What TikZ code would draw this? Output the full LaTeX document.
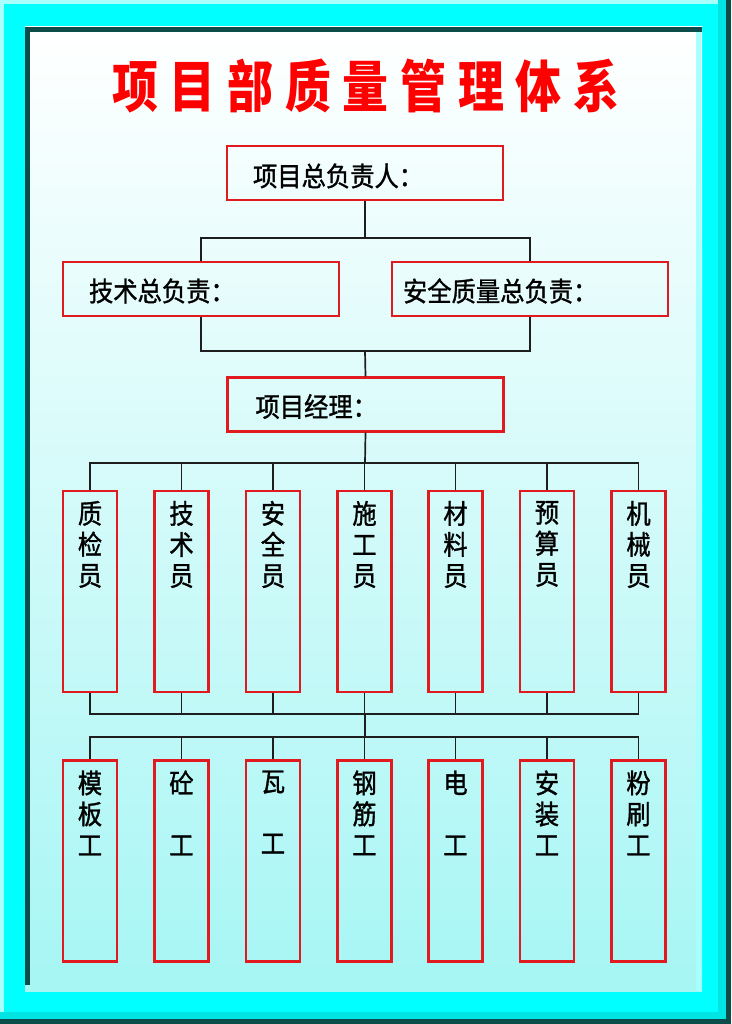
\documentclass[tikz,border=0pt]{standalone}
\usepackage{fontspec}
\usepackage{xcolor}
\usetikzlibrary{positioning}
\newfontfamily\cjk[FakeStretch=0.9,FakeBold=1.2]{Noto Sans CJK SC}
\newfontfamily\titlefont[LetterSpace=21,FakeStretch=0.82]{Noto Sans CJK SC}
\definecolor{rahmen}{HTML}{00FFFF}
\definecolor{rahmenhell}{HTML}{A8FFFF}
\definecolor{rahmendunkel}{HTML}{0C4C4A}
\definecolor{rahmenmitte}{HTML}{00E4E4}
\definecolor{tafelunten}{HTML}{A6F6F4}
\definecolor{kastenrot}{HTML}{E01A1E}
\definecolor{titelrot}{HTML}{FF0000}
\definecolor{linie}{HTML}{1E1E1E}
\tikzset{
  every picture/.style={x=1pt, y=-1pt},
  leitung/.style={draw=kastenrot, line width=2.4pt, minimum width=276pt, minimum height=54pt, inner sep=0pt},
  leittext/.style={anchor=west, inner sep=0pt, font=\cjk\fontsize{27}{30}\selectfont},
  posten/.style={draw=kastenrot, line width=2.4pt, minimum width=54pt, minimum height=201pt, inner sep=0pt},
  postentext/.style={anchor=north, align=center, inner sep=0pt, font=\cjk\fontsize{27}{31}\selectfont},
  strang/.style={draw=linie, line width=1.7pt},
}
\begin{document}
\begin{tikzpicture}
  \useasboundingbox (0,0) rectangle (731,1024);
  \fill[rahmen] (0,0) rectangle (731,1024);
  \fill[rahmenhell] (0,0) rectangle (731,4); \fill[rahmenhell] (0,0) rectangle (4,1024);
  \fill[rahmenmitte] (718,0) rectangle (726,1024); \fill[rahmenmitte] (0,1012) rectangle (731,1019);
  \fill[rahmendunkel] (726,0) rectangle (731,1024); \fill[rahmendunkel] (0,1019) rectangle (731,1024);
  \shade[top color=white, bottom color=tafelunten] (25,27) rectangle (702,991);
  \fill[rahmenhell] (696,32) rectangle (701,991);
  \fill[rahmendunkel] (25,27) rectangle (702,32); \fill[rahmendunkel] (25,27) rectangle (30,985);

  \node[text=titelrot, font=\titlefont\bfseries\fontsize{56}{60}\selectfont, inner sep=0pt, anchor=west] (titel) at (112,86) {项目部质量管理体系};

  \node[leitung] (chef) at (365,173) {};
  \node[leittext, right=27pt of chef.west, yshift=-3pt] {项目总负责人：};
  \node[leitung] (technik) at (201,289) {};
  \node[leittext, right=27pt of technik.west, yshift=-2pt] {技术总负责：};
  \node[leitung] (sicher) at (530,289) {};
  \node[leittext, right=12pt of sicher.west, yshift=-2pt] {安全质量总负责：};
  \node[leitung] (pm) at (365.5,404.5) {};
  \node[leittext, right=29pt of pm.west, yshift=-2pt] {项目经理：};

  \coordinate (k1) at (365,238);
  \coordinate (k2) at (365,351);
  \coordinate (k3) at (365,463);
  \coordinate (k4) at (365,714);
  \coordinate (k5) at (365,737);

  \draw[strang] (chef) -- (k1);
  \draw[strang] (technik.north) |- (k1) -| (sicher.north);
  \draw[strang] (technik.south) |- (k2) -| (sicher.south);
  \draw[strang] (k2) -- (pm.north);
  \draw[strang] (pm.south) -- (k3);

  \foreach \n/\x/\txt in {a1/90/{质\\检\\员}, a2/181.5/{技\\术\\员}, a3/273/{安\\全\\员},
      a4/364.5/{施\\工\\员}, a5/455.5/{材\\料\\员}, a6/547/{预\\算\\员}, a7/638.5/{机\\械\\员}}{
    \node[posten] (\n) at (\x,591.5) {};
    \node[postentext, below=11pt of \n.north] {\txt};
  }
  \foreach \n/\x/\txt in {b1/90/{模\\板\\工}, b2/181.5/{砼\\[31pt]工}, b3/273/{瓦\\[31pt]工},
      b4/364.5/{钢\\筋\\工}, b5/455.5/{电\\[31pt]工}, b6/547/{安\\装\\工}, b7/638.5/{粉\\刷\\工}}{
    \node[posten] (\n) at (\x,861) {};
    \node[postentext, below=11pt of \n.north] {\txt};
  }

  \draw[strang] (a1.north) |- (k3) -| (a7.north);
  \foreach \n in {a2,a3,a4,a5,a6}
    \draw[strang] (\n.north) -- (\n.north |- k3);
  \draw[strang] (a1.south) |- (k4) -| (a7.south);
  \foreach \n in {a2,a3,a4,a5,a6}
    \draw[strang] (\n.south) -- (\n.south |- k4);
  \draw[strang] (k4) -- (k5);
  \draw[strang] (b1.north) |- (k5) -| (b7.north);
  \foreach \n in {b2,b3,b4,b5,b6}
    \draw[strang] (\n.north) -- (\n.north |- k5);
\end{tikzpicture}
\end{document}
